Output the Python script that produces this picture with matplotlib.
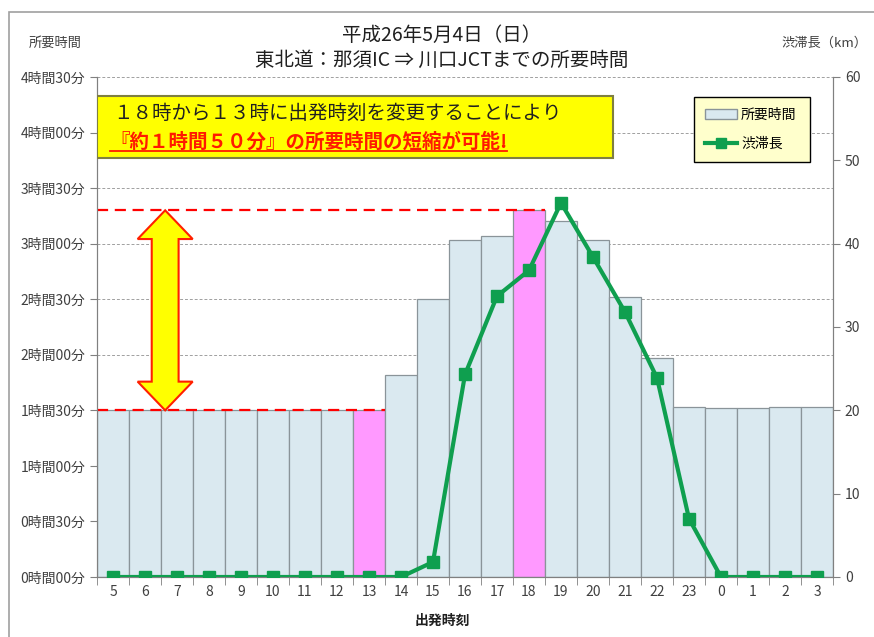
import matplotlib
matplotlib.use("Agg")
import matplotlib.pyplot as plt
import matplotlib.patches as mpatches
from matplotlib.lines import Line2D
import numpy as np

plt.rcParams['font.family'] = ['Noto Sans CJK JP', 'DejaVu Sans']

hours = [5, 6, 7, 8, 9, 10, 11, 12, 13, 14, 15, 16, 17, 18, 19, 20, 21, 22, 23, 0, 1, 2, 3]
travel_min = [90, 90, 90, 90, 90, 90, 90, 90, 90, 109, 150, 182, 184, 198, 192, 182,
              151, 118, 92, 91, 91, 92, 92]
jam_km = [0, 0, 0, 0, 0, 0, 0, 0, 0, 0, 1.8, 24.3, 33.7, 36.8, 44.9, 38.4,
          31.8, 23.9, 7.0, 0, 0, 0, 0]
highlight = [13, 18]
y_ticks_min = [0, 30, 60, 90, 120, 150, 180, 210, 240, 270]
km_ticks = [0, 10, 20, 30, 40, 50, 60]

title1 = "平成26年5月4日（日）"
title2 = "東北道：那須IC ⇒ 川口JCTまでの所要時間"
note1 = "１８時から１３時に出発時刻を変更することにより"
note2 = "『約１時間５０分』の所要時間の短縮が可能!"

bar_color = "#DAE9F0"
pink = "#FF99FF"
green = "#0F9F4F"
tick_color = "#404040"

fig = plt.figure(figsize=(8.74, 6.37), dpi=100)
ax = fig.add_axes([97 / 874, 60 / 637, 736 / 874, 500 / 637])
x = np.arange(len(hours))

colors = [pink if h in highlight else bar_color for h in hours]
ax.bar(x, travel_min, width=1.0, color=colors, edgecolor="#8A9499", linewidth=0.9, zorder=2)

ax.set_xlim(-0.5, len(hours) - 0.5)
ax.set_ylim(0, 270)
ax.set_yticks(y_ticks_min)
ax.set_yticklabels([f"{m // 60}時間{m % 60:02d}分" for m in y_ticks_min])
ax.yaxis.grid(True, linestyle=(0, (3, 2)), color="#A0A0A0", linewidth=0.7, zorder=0)
ax.set_axisbelow(True)
ax.set_xticks(x)
ax.set_xticklabels([str(h) for h in hours])
ax.set_xticks(np.arange(-0.5, len(hours), 1.0), minor=True)
ax.tick_params(axis="x", which="major", length=0, pad=6, labelsize=10, labelcolor=tick_color)
ax.tick_params(axis="x", which="minor", length=6, color="#808080")
ax.tick_params(axis="y", length=5, color="#808080", labelsize=10, labelcolor=tick_color)
for s in ["left", "bottom", "right"]:
    ax.spines[s].set_color("#808080")
ax.spines["top"].set_visible(False)

# red dashed reference lines at the 18h and 13h bar tops
i18 = hours.index(18)
i13 = hours.index(13)
ax.hlines(travel_min[i18], -0.5, i18 + 0.5, colors="#FF0000", linestyles=(0, (5, 3)),
          linewidth=1.6, zorder=4)
ax.hlines(travel_min[i13], -0.5, i13 + 0.5, colors="#FF0000", linestyles=(0, (5, 3)),
          linewidth=1.6, zorder=4)

# double arrow between the two levels
xc = 1.63
top = travel_min[i18]
bot = travel_min[i13]
hw_shaft = 0.42
hw_head = 0.86
head_len = 15.5
verts = [(xc, top), (xc + hw_head, top - head_len), (xc + hw_shaft, top - head_len),
         (xc + hw_shaft, bot + head_len), (xc + hw_head, bot + head_len), (xc, bot),
         (xc - hw_head, bot + head_len), (xc - hw_shaft, bot + head_len),
         (xc - hw_shaft, top - head_len), (xc - hw_head, top - head_len)]
ax.add_patch(mpatches.Polygon(verts, closed=True, facecolor="#FFFF00", edgecolor="#FF2000",
                              linewidth=1.5, zorder=5))

# second axis: congestion length
ax2 = ax.twinx()
ax2.plot(x, jam_km, color=green, linewidth=3, marker="s", markersize=8, zorder=6)
ax2.set_ylim(0, 60)
ax2.set_yticks(km_ticks)
ax2.tick_params(axis="y", length=5, color="#808080", labelsize=10, labelcolor=tick_color)
for s in ["left", "bottom", "right"]:
    ax2.spines[s].set_color("#808080")
ax2.spines["top"].set_visible(False)

# note box
box = mpatches.Rectangle((0, (577 - 158) / 500), (613 - 97) / 736, 62 / 500,
                         transform=ax2.transAxes, facecolor="#FFFF00", edgecolor="#7F7F40",
                         linewidth=1.5, zorder=7)
ax2.add_patch(box)
ax2.text((113 - 97) / 736, (577 - 113) / 500, note1, transform=ax2.transAxes, fontsize=14,
         color="#202020", va="center", ha="left", zorder=8)
t2 = ax2.text((110 - 97) / 736, (577 - 142) / 500, note2, transform=ax2.transAxes, fontsize=14,
              color="#FF1A00", fontweight="bold", va="center", ha="left", zorder=8)

# legend
handles = [mpatches.Patch(facecolor=bar_color, edgecolor="#8A9499", label="所要時間"),
           Line2D([], [], color=green, linewidth=3, marker="s", markersize=7, label="渋滞長")]
leg = ax2.legend(handles=handles, loc="upper left",
                 bbox_to_anchor=((687 - 97) / 736, (577 - 95) / 500, 130 / 736, 0.01),
                 mode="expand", fontsize=10, frameon=True, fancybox=False,
                 facecolor="#FFFFCC", edgecolor="black", framealpha=1,
                 labelspacing=1.1, borderpad=0.8, handlelength=2.3, handletextpad=0.3)
leg.get_frame().set_linewidth(1.0)
leg.set_zorder(9)

# titles and labels
fig.text(442 / 874, 1 - 35 / 637, title1, ha="center", va="center", fontsize=14, color="#202020")
fig.text(442 / 874, 1 - 60 / 637, title2, ha="center", va="center", fontsize=14, color="#202020")
fig.text(55 / 874, 1 - 43 / 637, "所要時間", ha="center", va="center", fontsize=9.5, color=tick_color)
fig.text(824 / 874, 1 - 43 / 637, "渋滞長（km）", ha="center", va="center", fontsize=9.5, color=tick_color)
fig.text(442 / 874, 1 - 621 / 637, "出発時刻", ha="center", va="center", fontsize=10,
         fontweight="bold", color="#202020")

# outer frame
fig.add_artist(mpatches.Rectangle((9 / 874, -0.01), 1.0, 1 - 12 / 637 + 0.01,
                                  transform=fig.transFigure, fill=False,
                                  edgecolor="#A0A0A0", linewidth=1.2))

# underline for the red note
fig.canvas.draw()
bb = t2.get_window_extent()
uy = bb.y0 + 1
fig.add_artist(Line2D([bb.x0 / 874, bb.x1 / 874], [uy / 637, uy / 637],
                      transform=fig.transFigure, color="#FF1A00", linewidth=1.3, zorder=10))

fig.savefig("out.png", dpi=100)
